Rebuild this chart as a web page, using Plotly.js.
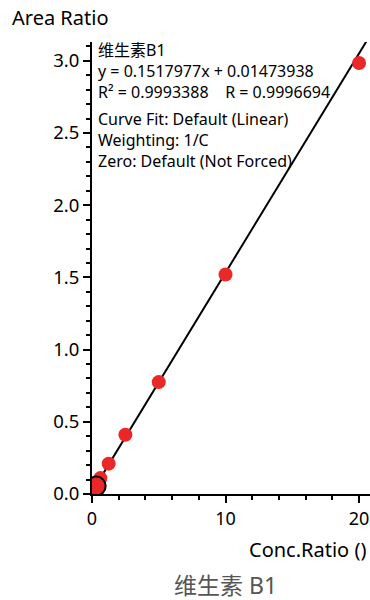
<!DOCTYPE html>
<html>
<head>
<meta charset="utf-8">
<script src="https://cdn.plot.ly/plotly-3.0.1.min.js"></script>
<style>
html,body{margin:0;padding:0;background:#fff;}
#chart{width:370px;height:600px;}
</style>
</head>
<body>
<div id="chart"></div>
<script>
// ---- data ----
const compoundName = "维生素B1";
const chartTitle = "维生素 B1";
const concRatio = [0.3125, 0.625, 1.25, 2.5, 5, 10, 20];
const areaRatio = [0.055, 0.11, 0.21, 0.41, 0.775, 1.52, 2.985];
const selectedIndex = [0];
const fitSlope = 0.1517977;
const fitIntercept = 0.01473938;
const rSquared = "0.9993388";
const rValue = "0.9996694";
const fitInfo = ["Curve Fit: Default (Linear)", "Weighting: 1/C", "Zero: Default (Not Forced)"];
const xTickVals = [0, 10, 20];
const yTickVals = [0, 0.5, 1.0, 1.5, 2.0, 2.5, 3.0];
const yTickText = ["0.0", "0.5", "1.0", "1.5", "2.0", "2.5", "3.0"];

const FONT = "Noto Sans, Noto Sans CJK SC, sans-serif";
const lineX = [0, 22];
const lineY = lineX.map(x => fitSlope * x + fitIntercept);

// plot area geometry (pixels)
const M = {l: 92, r: 0, t: 42, b: 106};
const W = 370, H = 600;
const PW = W - M.l - M.r, PH = H - M.t - M.b;
const px = x => (x - M.l) / PW;
const py = y => (H - M.b - y) / PH;

const traces = [
  {x: lineX, y: lineY, mode: 'lines', line: {color: '#000', width: 2}, hoverinfo: 'skip'},
  {x: concRatio, y: areaRatio, mode: 'markers', marker: {color: '#ea2828', size: 14}},
  {x: selectedIndex.map(i => concRatio[i]), y: selectedIndex.map(i => areaRatio[i]), mode: 'markers',
   marker: {color: '#ea2828', size: 19, line: {color: '#000', width: 2}}}
];

function note(text, x, y, size, opts) {
  return Object.assign({xref: 'paper', yref: 'paper', x: px(x), y: py(y), xanchor: 'left', yanchor: 'middle',
    showarrow: false, align: 'left', text: text, font: {size: size, family: FONT, color: '#000'}}, opts || {});
}

const block1 = [compoundName, 'y = ' + fitSlope + 'x + ' + fitIntercept, 'R² = ' + rSquared + '    R = ' + rValue];

const layout = {
  width: W, height: H,
  margin: M,
  showlegend: false,
  paper_bgcolor: '#fff', plot_bgcolor: '#fff',
  font: {family: FONT, color: '#000', size: 17},
  xaxis: {
    range: [0, 20.82], showgrid: false, zeroline: false,
    showline: true, linecolor: '#000', linewidth: 2,
    tickmode: 'array', tickvals: xTickVals, ticks: 'outside', ticklen: 7, tickwidth: 2, tickcolor: '#000',
    minor: {dtick: 2, tick0: 0, ticks: 'outside', ticklen: 4, tickwidth: 2, tickcolor: '#000'},
    tickfont: {size: 18, family: FONT}
  },
  yaxis: {
    range: [0, 3.13], showgrid: false, zeroline: false,
    showline: true, linecolor: '#000', linewidth: 2,
    tickmode: 'array', tickvals: yTickVals, ticktext: yTickText, ticks: 'outside', ticklen: 7, tickwidth: 2, tickcolor: '#000',
    minor: {dtick: 0.1, tick0: 0, ticks: 'outside', ticklen: 4, tickwidth: 2, tickcolor: '#000'},
    tickfont: {size: 18.5, family: FONT}
  },
  annotations: [
    note('Area Ratio', 10, 18, 20),
    note('Conc.Ratio ()', 368, 549, 20, {xanchor: 'right'}),
    note(chartTitle, 225, 585, 23, {xanchor: 'center', font: {size: 23, family: FONT, color: '#555'}}),
    note(block1.join('<br>'), 96, 71, 16),
    note(fitInfo.join('<br>'), 96, 140, 16)
  ]
};

Plotly.newPlot('chart', traces, layout, {staticPlot: true, displayModeBar: false});
</script>
</body>
</html>
